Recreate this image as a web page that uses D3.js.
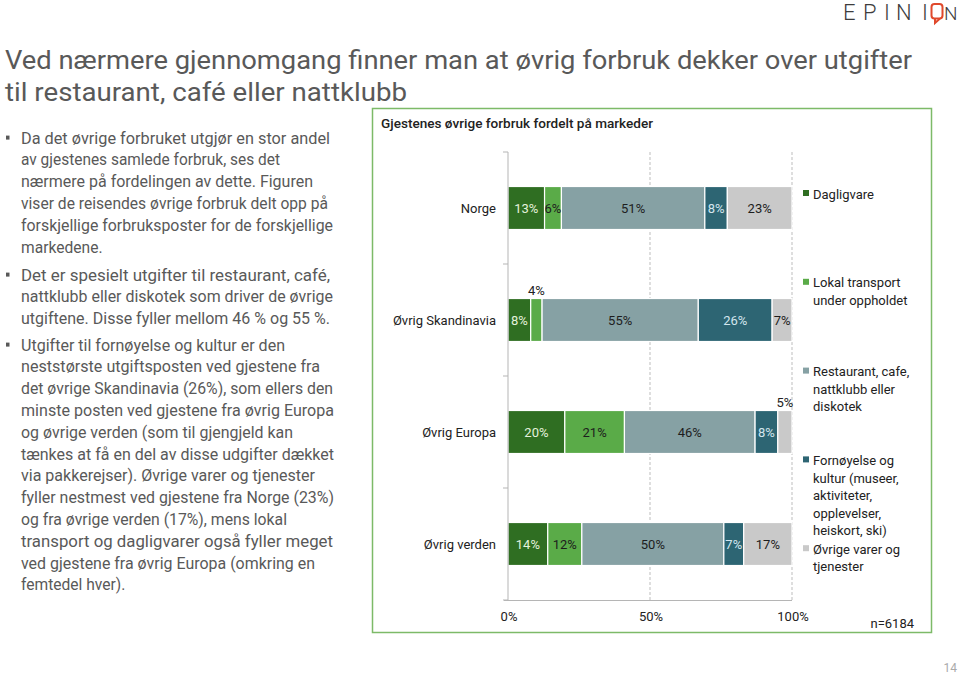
<!DOCTYPE html>
<html><head><meta charset="utf-8">
<script src="https://cdn.jsdelivr.net/npm/d3@7/dist/d3.min.js"></script>
<style>
html,body{margin:0;padding:0;background:#fff;}
svg{display:block;font-family:Roboto,"Noto Sans",sans-serif;}
</style></head>
<body>
<svg id="c" width="960" height="675"></svg>
<script>
// ---------- DATA ----------
const categories = ["Norge", "Øvrig Skandinavia", "Øvrig Europa", "Øvrig verden"];
const seriesNames = ["Dagligvare", "Lokal transport under oppholdet", "Restaurant, cafe, nattklubb eller diskotek",
  "Fornøyelse og kultur (museer, aktiviteter, opplevelser, heiskort, ski)", "Øvrige varer og tjenester"];
const dagligvare     = [13, 8, 20, 14];
const lokalTransport = [6, 4, 21, 12];
const restaurant     = [51, 55, 46, 50];
const fornoyelse     = [8, 26, 8, 7];
const ovrigeVarer    = [23, 7, 5, 17];
const xTickValues = [0, 0.5, 1];
const xTickLabels = ["0%", "50%", "100%"];
const chartTitle = "Gjestenes øvrige forbruk fordelt på markeder";
const nText = "n=6184";
const pageTitle = ["Ved nærmere gjennomgang finner man at øvrig forbruk dekker over utgifter",
                   "til restaurant, café eller nattklubb"];
const bullets = [
  ["Da det øvrige forbruket utgjør en stor andel", "av gjestenes samlede forbruk, ses det",
   "nærmere på fordelingen av dette. Figuren", "viser de reisendes øvrige forbruk delt opp på",
   "forskjellige forbruksposter for de forskjellige", "markedene."],
  ["Det er spesielt utgifter til restaurant, café,", "nattklubb eller diskotek som driver de øvrige",
   "utgiftene. Disse fyller mellom 46 % og 55 %."],
  ["Utgifter til fornøyelse og kultur er den", "neststørste utgiftsposten ved gjestene fra",
   "det øvrige Skandinavia (26%), som ellers den", "minste posten ved gjestene fra øvrig Europa",
   "og øvrige verden (som til gjengjeld kan", "tænkes at få en del av disse udgifter dækket",
   "via pakkerejser). Øvrige varer og tjenester", "fyller nestmest ved gjestene fra Norge (23%)",
   "og fra øvrige verden (17%), mens lokal", "transport og dagligvarer også fyller meget",
   "ved gjestene fra øvrig Europa (omkring en", "femtedel hver)."]
];

// ---------- LAYOUT / STYLE ----------
const bulletLineEnds = [
  [330, 280, 313, 328, 333, null],
  [330, 333, 330],
  [285, 320, 333, 334, 293, 334, 315, 334, 287, 333, 315, null]
];
const bulletStartY = [143.6, 280.6, 350.6];
const lineStep = 21.8;
const colors = ["#2f6e22", "#5aab48", "#86a1a4", "#2d6573", "#c9c9c9"];
const labelColors = ["#e4f1dc", "#1d1d1d", "#1d1d1d", "#d3e6ee", "#1d1d1d"];
const legendLines = [["Dagligvare"], ["Lokal transport", "under oppholdet"],
  ["Restaurant, cafe,", "nattklubb eller", "diskotek"],
  ["Fornøyelse og", "kultur (museer,", "aktiviteter,", "opplevelser,", "heiskort, ski)"],
  ["Øvrige varer og", "tjenester"]];

const svg = d3.select("#c");

// Logo
const logo = svg.append("g").attr("fill", "#3d3d3d").attr("font-weight", 300);
[["E", 843, 22], ["P", 863, 22], ["I", 884, 22], ["N", 896, 22], ["I", 922, 22], ["N", 944, 19]].forEach(([ch, x, fs]) =>
  logo.append("text").attr("x", x).attr("y", 20).attr("font-size", fs).text(ch));
logo.append("rect").attr("x", 931.5).attr("y", 4).attr("width", 11).attr("height", 14.5).attr("rx", 3)
  .attr("fill", "none").attr("stroke", "#e0492c").attr("stroke-width", 2);
logo.append("path").attr("d", "M935,18.5 L935,23 L940,18.5").attr("fill", "none").attr("stroke", "#e0492c").attr("stroke-width", 2);

// Title
pageTitle.forEach((t, i) => {
  const el = svg.append("text").attr("x", 5).attr("y", 69 + i * 32).attr("font-size", 26)
    .attr("fill", "#595959").text(t);
  const target = i === 0 ? 907 : 402;
  el.attr("textLength", target).attr("lengthAdjust", "spacingAndGlyphs");
});

// Bullets
bullets.forEach((lines, bi) => {
  svg.append("rect").attr("x", 6).attr("y", bulletStartY[bi] - 8).attr("width", 3.5).attr("height", 4)
    .attr("fill", "#595959");
  lines.forEach((t, li) => {
    const el = svg.append("text").attr("x", 21).attr("y", bulletStartY[bi] + li * lineStep)
      .attr("font-size", 15.6).attr("fill", "#595959").text(t);
    const end = bulletLineEnds[bi][li];
    if (end) el.attr("textLength", end - 21).attr("lengthAdjust", "spacingAndGlyphs");
  });
});

// Chart frame
svg.append("rect").attr("x", 372.5).attr("y", 108.5).attr("width", 559).attr("height", 524)
  .attr("fill", "#fff").attr("stroke", "#7dba68").attr("stroke-width", 1.5);
svg.append("text").attr("x", 381).attr("y", 127.5).attr("font-size", 13).attr("font-weight", 500)
  .attr("fill", "#222").text(chartTitle)
  .attr("textLength", 272).attr("lengthAdjust", "spacingAndGlyphs");

// Scales
const x = d3.scaleLinear().domain([0, 1]).range([508, 792]);
const y = d3.scaleBand().domain(categories).range([152, 600]).paddingInner(0.616).paddingOuter(0.308);

// Gridlines
const g = svg.append("g");
g.selectAll("line.grid").data(xTickValues.filter(v => v > 0)).join("line")
  .attr("x1", d => x(d)).attr("x2", d => x(d)).attr("y1", 152).attr("y2", 600)
  .attr("stroke", "#bdbdbd").attr("stroke-width", 1).attr("stroke-dasharray", "3,2");

// Stack
const seriesArrays = [dagligvare, lokalTransport, restaurant, fornoyelse, ovrigeVarer];
const rows = categories.map((c, i) => {
  const o = { cat: c };
  seriesNames.forEach((s, k) => o[s] = seriesArrays[k][i]);
  return o;
});
const stacked = d3.stack().keys(seriesNames).offset(d3.stackOffsetExpand)(rows);

const segs = g.selectAll("g.s").data(stacked).join("g").attr("fill", (d, k) => colors[k]);
segs.selectAll("rect").data(d => d.map(p => ({ p, key: d.key, k: d.index }))).join("rect")
  .attr("x", d => x(d.p[0])).attr("width", d => x(d.p[1]) - x(d.p[0]))
  .attr("y", d => y(d.p.data.cat)).attr("height", y.bandwidth())
  .attr("stroke", "#fff").attr("stroke-width", 1.2);

// Labels
stacked.forEach((s, k) => {
  s.forEach(p => {
    const v = p.data[s.key];
    const w = x(p[1]) - x(p[0]);
    const outside = w < 16;
    g.append("text")
      .attr("x", (x(p[0]) + x(p[1])) / 2)
      .attr("y", outside ? y(p.data.cat) - 3 : y(p.data.cat) + y.bandwidth() / 2 + 4.5)
      .attr("text-anchor", "middle").attr("font-size", 13)
      .attr("fill", outside ? "#222" : labelColors[k])
      .text(v + "%");
  });
});

// Y axis
const yAxis = svg.append("g").attr("transform", "translate(508,0)");
yAxis.append("line").attr("y1", 152).attr("y2", 600).attr("stroke", "#b5b5b5");
const bounds = [152].concat(categories.map(c => y(c) - y.step() * y.paddingInner() / 2 + y.step()));
yAxis.selectAll("line.t").data(bounds).join("line")
  .attr("x1", -5).attr("x2", 0).attr("y1", d => d).attr("y2", d => d).attr("stroke", "#b5b5b5");
svg.selectAll("text.cat").data(categories).join("text")
  .attr("x", 496).attr("y", d => y(d) + y.bandwidth() / 2 + 4.5)
  .attr("text-anchor", "end").attr("font-size", 13).attr("fill", "#222").text(d => d);

// X axis
svg.append("line").attr("x1", 504).attr("x2", 792).attr("y1", 600.5).attr("y2", 600.5).attr("stroke", "#b5b5b5");
svg.selectAll("text.xt").data(xTickValues).join("text")
  .attr("x", d => x(d) + 1).attr("y", 621).attr("text-anchor", "middle")
  .attr("font-size", 13).attr("fill", "#222").text((d, i) => xTickLabels[i]);

// Legend
legendLines.forEach((lines, i) => {
  const y0 = 194 + i * 88.8;
  svg.append("rect").attr("x", 803).attr("y", y0 - 4).attr("width", 6).attr("height", 6).attr("fill", colors[i]);
  lines.forEach((t, li) => {
    svg.append("text").attr("x", 813).attr("y", y0 + 4.5 + li * 17.6)
      .attr("font-size", 13).attr("fill", "#222").text(t);
  });
});

// n
svg.append("text").attr("x", 914).attr("y", 628).attr("text-anchor", "end")
  .attr("font-size", 13).attr("fill", "#222").text(nText);

// page number
svg.append("text").attr("x", 957).attr("y", 672).attr("text-anchor", "end")
  .attr("font-size", 12).attr("fill", "#aaa").text("14");
</script>
</body></html>
